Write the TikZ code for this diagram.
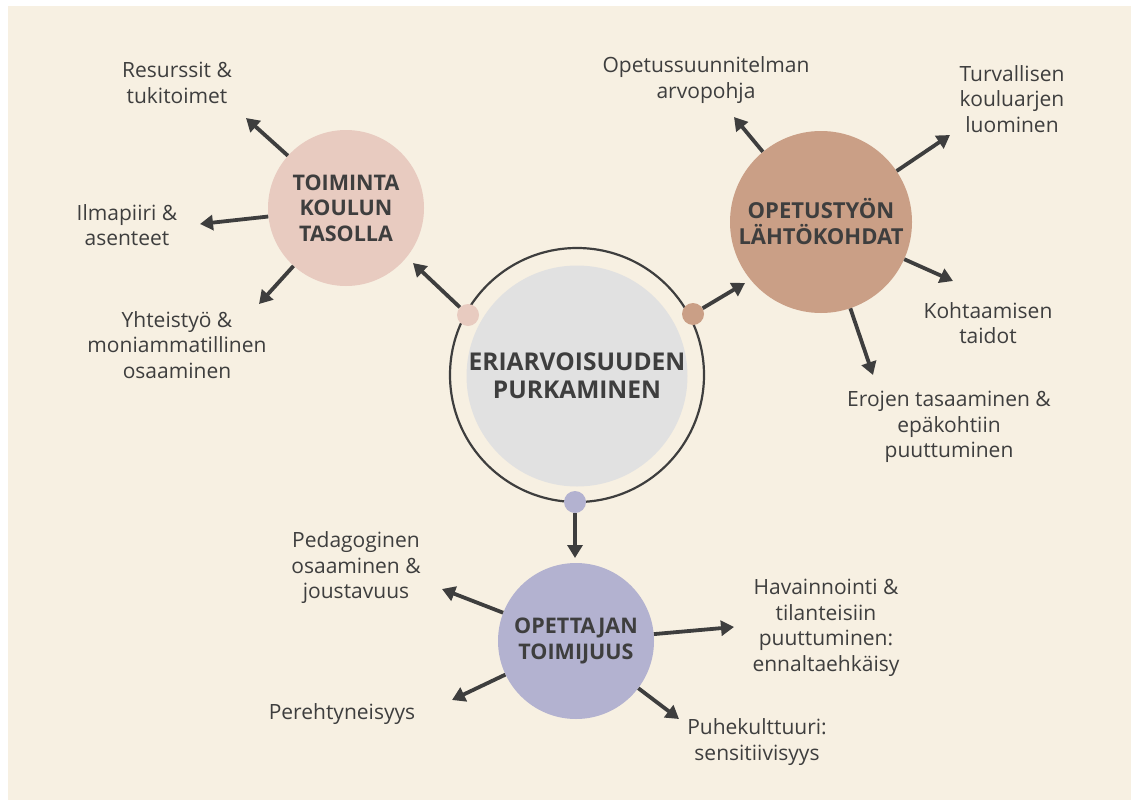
\documentclass[tikz,border=0pt]{standalone}
\usepackage{fontspec}
\setmainfont{Open Sans}
\usepackage{tikz}
\usetikzlibrary{arrows.meta}
\usepackage{xcolor}
\definecolor{bgBeige}{HTML}{F7F0E2}
\definecolor{inkGray}{HTML}{3E3E3E}
\definecolor{rosePink}{HTML}{E8CBC0}
\definecolor{clayBrown}{HTML}{CA9F86}
\definecolor{lilacBlue}{HTML}{B3B2D0}
\definecolor{coreGray}{HTML}{E1E1E1}

\begin{document}
\begin{tikzpicture}[x=1pt, y=-1pt,
    topicCircle/.style={circle, inner sep=0pt, align=center, text=inkGray, font=\fontsize{21.5}{25.5}\selectfont\bfseries},
    leafText/.style={align=center, text=inkGray, font=\fontsize{21}{25.5}\selectfont},
    hubDot/.style={circle, inner sep=0pt, minimum size=22pt},
    arrowStyle/.style={-{Triangle[length=13pt,width=15pt]}, line width=3.8pt, draw=inkGray}
]
    \useasboundingbox (0,0) rectangle (1131,800);
    \fill[bgBeige] (8,6) rectangle (1131,800);

    % Keskus
    \node[circle, draw=inkGray, line width=2.2pt, minimum size=254pt, inner sep=0pt] (ring) at (577,375) {};
    \node[circle, fill=coreGray, minimum size=206pt, inner sep=0pt, align=center, text=inkGray,
          font=\fontsize{24.5}{28}\selectfont\bfseries] (core) at (577,376) {ERIARVOISUUDEN\\PURKAMINEN};
    \node[hubDot, fill=rosePink] (dotToim) at (468,315) {};
    \node[hubDot, fill=clayBrown] (dotOpet) at (693,314) {};
    \node[hubDot, fill=lilacBlue] (dotOpettaja) at (575,502) {};

    % Teemapallot
    \node[topicCircle, fill=rosePink, minimum size=156pt] (toim) at (346,208) {TOIMINTA\\KOULUN\\TASOLLA};
    \node[topicCircle, fill=clayBrown, minimum size=182pt, font=\fontsize{22}{26}\selectfont\bfseries] (opet) at (821,222) {OPETUSTYÖN\\LÄHTÖKOHDAT};
    \node[topicCircle, fill=lilacBlue, minimum size=156pt] (opettaja) at (576,641) {OPETTAJAN\\TOIMIJUUS};

    % Vasen yläkulma
    \node[leafText] (res) at (177,83) {Resurssit \&\\tukitoimet};
    \node[leafText] (ilma) at (127,225) {Ilmapiiri \&\\asenteet};
    \node[leafText] (yht) at (177,345) {Yhteistyö \&\\moniammatillinen\\osaaminen};

    % Oikea puoli
    \node[leafText] (ops) at (706,80) {Opetussuunnitelman\\arvopohja};
    \node[leafText] (turva) at (1012,99) {Turvallisen\\kouluarjen\\luominen};
    \node[leafText] (kohta) at (988,323) {Kohtaamisen\\taidot};
    \node[leafText] (erot) at (949,427) {Erojen tasaaminen \&\\epäkohtiin\\puuttuminen};

    % Alaosa
    \node[leafText] (peda) at (356,568) {Pedagoginen\\osaaminen \&\\joustavuus};
    \node[leafText] (pere) at (342,714) {Perehtyneisyys};
    \node[leafText] (hava) at (826,628) {Havainnointi \&\\tilanteisiin\\puuttuminen:\\ennaltaehkäisy};
    \node[leafText] (puhe) at (757,742) {Puhekulttuuri:\\sensitiivisyys};

    % Nuolten kärjet
    \coordinate (tipToim) at (413,263);
    \coordinate (tipOpet) at (745,283);
    \coordinate (tipOpettaja) at (575,558);
    \coordinate (tipRes) at (246,118);
    \coordinate (tipIlma) at (200,224);
    \coordinate (tipYht) at (259,304);
    \coordinate (tipOps) at (734,117);
    \coordinate (tipTurva) at (950,135);
    \coordinate (tipKohta) at (953,281);
    \coordinate (tipErot) at (873,375);
    \coordinate (tipPeda) at (442,589);
    \coordinate (tipPere) at (452,700);
    \coordinate (tipHava) at (734,627);
    \coordinate (tipPuhe) at (679,719);

    \draw[arrowStyle] (dotToim) -- (tipToim);
    \draw[arrowStyle] (dotOpet) -- (tipOpet);
    \draw[arrowStyle] (dotOpettaja) -- (tipOpettaja);

    \draw[arrowStyle] (toim) -- (tipRes);
    \draw[arrowStyle] (toim) -- (tipIlma);
    \draw[arrowStyle] (toim) -- (tipYht);

    \draw[arrowStyle] (opet) -- (tipOps);
    \draw[arrowStyle] (opet) -- (tipTurva);
    \draw[arrowStyle] (opet) -- (tipKohta);
    \draw[arrowStyle] (opet) -- (tipErot);

    \draw[arrowStyle] (opettaja) -- (tipPeda);
    \draw[arrowStyle] (opettaja) -- (tipPere);
    \draw[arrowStyle] (opettaja) -- (tipHava);
    \draw[arrowStyle] (opettaja) -- (tipPuhe);
\end{tikzpicture}
\end{document}
